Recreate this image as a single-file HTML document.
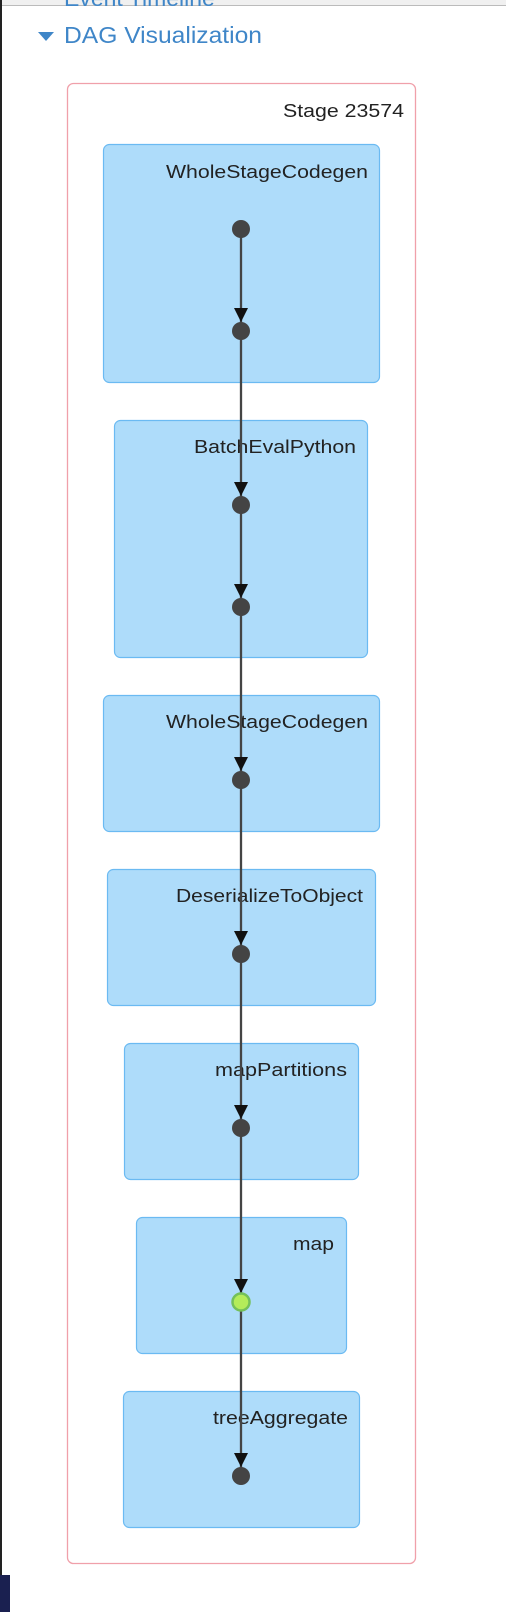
<!DOCTYPE html>
<html><head><meta charset="utf-8"><style>
html,body{margin:0;padding:0;background:#fff;}
body{width:506px;height:1612px;position:relative;overflow:hidden;font-family:"Liberation Sans",sans-serif;}
</style></head><body>
<svg width="506" height="1612" viewBox="0 0 506 1612" xmlns="http://www.w3.org/2000/svg" style="position:absolute;left:0;top:0">
<rect x="0" y="0" width="506" height="5" fill="#f0f0f0"/>
<line x1="2" y1="5.5" x2="506" y2="5.5" stroke="#bbb" stroke-width="1"/>
<rect x="0" y="0" width="2" height="1575" fill="#222"/>
<rect x="0" y="1575" width="10" height="37" fill="#1a2050"/>
<path d="M38 32 L54 32 L46 41 Z" fill="#3f86c8"/>
<text x="64" y="43" font-size="23" fill="#3f86c8" textLength="198" lengthAdjust="spacingAndGlyphs">DAG Visualization</text>
<text x="64" y="6" font-size="23" fill="#3f86c8">Event Timeline</text>
<rect x="67.5" y="83.5" width="348" height="1480" rx="6" fill="none" stroke="#f0a0aa" stroke-width="1.3"/>
<text x="283" y="117" font-size="18" fill="#222" textLength="121" lengthAdjust="spacingAndGlyphs">Stage 23574</text>
<g fill="#aedcfa" stroke="#6bbaf2" stroke-width="1.2">
<rect x="103.5" y="144.5" width="276" height="238" rx="6"/>
<rect x="114.5" y="420.5" width="253" height="237" rx="6"/>
<rect x="103.5" y="695.5" width="276" height="136" rx="6"/>
<rect x="107.5" y="869.5" width="268" height="136" rx="6"/>
<rect x="124.5" y="1043.5" width="234" height="136" rx="6"/>
<rect x="136.5" y="1217.5" width="210" height="136" rx="6"/>
<rect x="123.5" y="1391.5" width="236" height="136" rx="6"/>
</g>
<g font-size="18" fill="#222" lengthAdjust="spacingAndGlyphs">
<text x="166" y="178" textLength="202" lengthAdjust="spacingAndGlyphs">WholeStageCodegen</text>
<text x="194" y="453" textLength="162" lengthAdjust="spacingAndGlyphs">BatchEvalPython</text>
<text x="166" y="728" textLength="202" lengthAdjust="spacingAndGlyphs">WholeStageCodegen</text>
<text x="176" y="902" textLength="187" lengthAdjust="spacingAndGlyphs">DeserializeToObject</text>
<text x="215" y="1076" textLength="132" lengthAdjust="spacingAndGlyphs">mapPartitions</text>
<text x="293" y="1250" textLength="41" lengthAdjust="spacingAndGlyphs">map</text>
<text x="213" y="1424" textLength="135" lengthAdjust="spacingAndGlyphs">treeAggregate</text>
</g>
<line x1="241" y1="229" x2="241" y2="1476" stroke="#444" stroke-width="2.3"/>
<g fill="#111">
<path d="M234 308 L248 308 L241 322 Z"/>
<path d="M234 482 L248 482 L241 496 Z"/>
<path d="M234 584 L248 584 L241 598 Z"/>
<path d="M234 757 L248 757 L241 771 Z"/>
<path d="M234 931 L248 931 L241 945 Z"/>
<path d="M234 1105 L248 1105 L241 1119 Z"/>
<path d="M234 1279 L248 1279 L241 1293 Z"/>
<path d="M234 1453 L248 1453 L241 1467 Z"/>
</g>
<g fill="#444">
<circle cx="241" cy="229" r="9"/>
<circle cx="241" cy="331" r="9"/>
<circle cx="241" cy="505" r="9"/>
<circle cx="241" cy="607" r="9"/>
<circle cx="241" cy="780" r="9"/>
<circle cx="241" cy="954" r="9"/>
<circle cx="241" cy="1128" r="9"/>
<circle cx="241" cy="1476" r="9"/>
</g>
<circle cx="241" cy="1302" r="8.5" fill="#b4ec5a" stroke="#74c05a" stroke-width="2.5"/>
</svg>
</body></html>
